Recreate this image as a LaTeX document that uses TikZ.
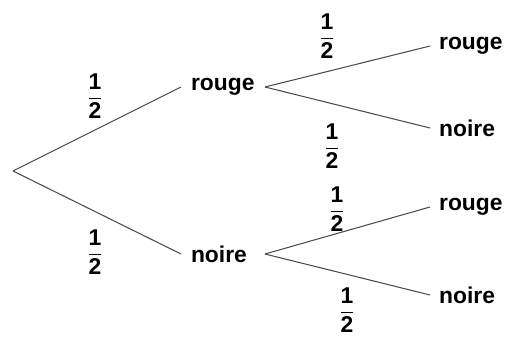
\documentclass[tikz,border=0pt]{standalone}
\usepackage{amsmath}
\usepackage{fontspec}
\setmainfont{Liberation Sans}
\newcommand{\demi}{$\dfrac{\text{1}}{\text{2}}$}
\begin{document}
\begin{tikzpicture}[x=0.02cm, y=-0.02cm, every node/.style={font=\bfseries\fontsize{13}{15}\selectfont},
  issue/.style={inner xsep=5pt, inner ysep=1pt},
  premier/.style={issue, inner xsep=5.5pt, text width=1.28cm, align=left, anchor=west},
  proba/.style={inner sep=0pt},
  branche/.style={draw=black!70, line width=0.6pt}]
\useasboundingbox (0,0) rectangle (515,345);
\coordinate (o) at (13,171);
% premier tirage
\node[premier] (r) at (181,87) {rouge};
\node[premier] (n) at (181,254) {noire};
\draw[branche] (o) -- (r.west); \draw[branche] (o) -- (n.west);
\node[proba] (p1) at (95,96) {\demi};
\node[proba] (p2) at (95,252) {\demi};
% second tirage
\node[issue, anchor=west] (rr) at (430,46) {rouge};
\node[issue, anchor=west] (rn) at (430,128) {noire};
\node[issue, anchor=west] (nr) at (430,207) {rouge};
\node[issue, anchor=west] (nn) at (430,295) {noire};
\draw[branche] (r.east) -- (rr.west); \draw[branche] (r.east) -- (rn.west);
\draw[branche] (n.east) -- (nr.west); \draw[branche] (n.east) -- (nn.west);
\node[proba] (p3) at (327,36) {\demi};
\node[proba] (p4) at (332,146) {\demi};
\node[proba] (p5) at (337,209) {\demi};
\node[proba] (p6) at (347,310) {\demi};
\end{tikzpicture}
\end{document}
